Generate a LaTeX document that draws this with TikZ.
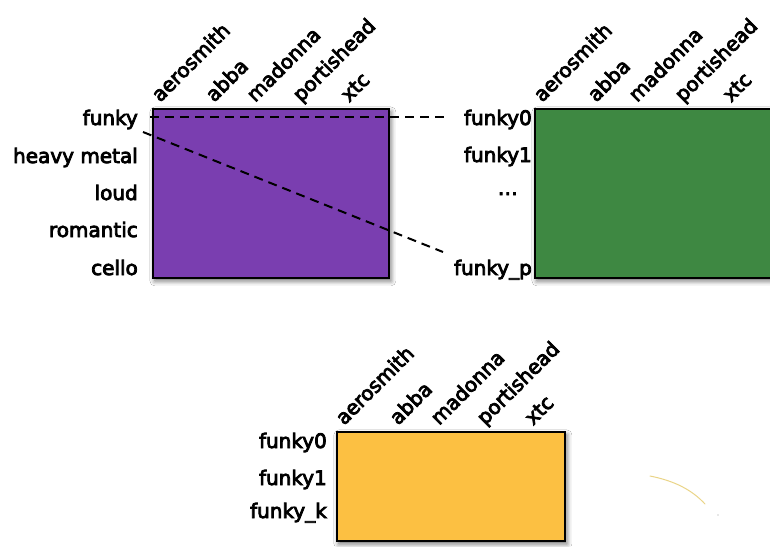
\documentclass[tikz,border=0pt]{standalone}
\usepackage{fontspec}
\newfontfamily\lblfont[FakeBold=4]{DejaVu Sans}
\usetikzlibrary{shadows.blur}
\definecolor{mpurple}{RGB}{122,62,176}
\definecolor{mgreen}{RGB}{62,136,66}
\definecolor{myellow}{RGB}{252,192,66}
\tikzset{
  matbox/.style={draw=black, line width=1.8pt, inner sep=0pt, anchor=north west,
    blur shadow={shadow xshift=2pt, shadow yshift=-3pt, shadow blur radius=5pt, shadow opacity=60}},
  lbl/.style={inner sep=0pt, font=\lblfont\fontsize{20}{24}\selectfont},
  rowlbl/.style={lbl, anchor=base east},
  collbl/.style={lbl, anchor=base west, rotate=45},
  link/.style={dash pattern=on 9pt off 6pt, line width=2pt}
}
\begin{document}
\begin{tikzpicture}[x=1pt, y=-1pt]
  \useasboundingbox[fill=white] (0,0) rectangle (770,546);

  % matrices
  \node[matbox, fill=mpurple, minimum width=236pt, minimum height=169pt] (P) at (152,108) {};
  \node[matbox, fill=mgreen, minimum width=250pt, minimum height=169pt] (G) at (534,108) {};
  \node[matbox, fill=myellow, minimum width=228pt, minimum height=109pt] (Y) at (336,431) {};

  % column headings
  \foreach \dx/\name [count=\i] in {8/aerosmith, 62/abba, 103/madonna, 149/portishead, 197/xtc} {
    \node[collbl] (pc\i) at (152+\dx,103) {\name};
    \node[collbl] (gc\i) at (534+\dx,103) {\name};
    \node[collbl] (yc\i) at (336+\dx,426) {\name};
  }

  % row headings, first matrix
  \node[rowlbl] (funky) at (138,125) {funky};
  \node[rowlbl] (heavy) at (138,163) {heavy metal};
  \node[rowlbl] (loud) at (138,200) {loud};
  \node[rowlbl] (rom) at (138,237) {romantic};
  \node[rowlbl] (cello) at (138,275) {cello};

  % row headings, second matrix
  \node[rowlbl] (gf0) at (532,125) {funky0};
  \node[rowlbl] (gf1) at (532,162) {funky1};
  \node[rowlbl] (gdots) at (518,195) {…};
  \node[rowlbl] (gfp) at (532,275) {funky\_p};

  % row headings, third matrix
  \node[rowlbl] (yf0) at (327,448) {funky0};
  \node[rowlbl] (yf1) at (327,485) {funky1};
  \node[rowlbl] (yfk) at (327,518) {funky\_k};

  % dashed links between the rows
  \coordinate (a1) at (150,117);
  \coordinate (b1) at (444,117);
  \coordinate (a2) at (143,132);
  \coordinate (b2) at (443,252);
  \draw[link] (a1) -- (b1);
  \draw[link] (a2) -- (b2);

  % faint stroke in the lower right
  \draw[line width=1pt, color=brown!60!yellow, opacity=0.55, line cap=round]
    (650,476) .. controls (675,481) and (692,490) .. (705,504);
  \fill[gray!60, opacity=0.6] (718,515) circle (0.8pt);
\end{tikzpicture}
\end{document}
